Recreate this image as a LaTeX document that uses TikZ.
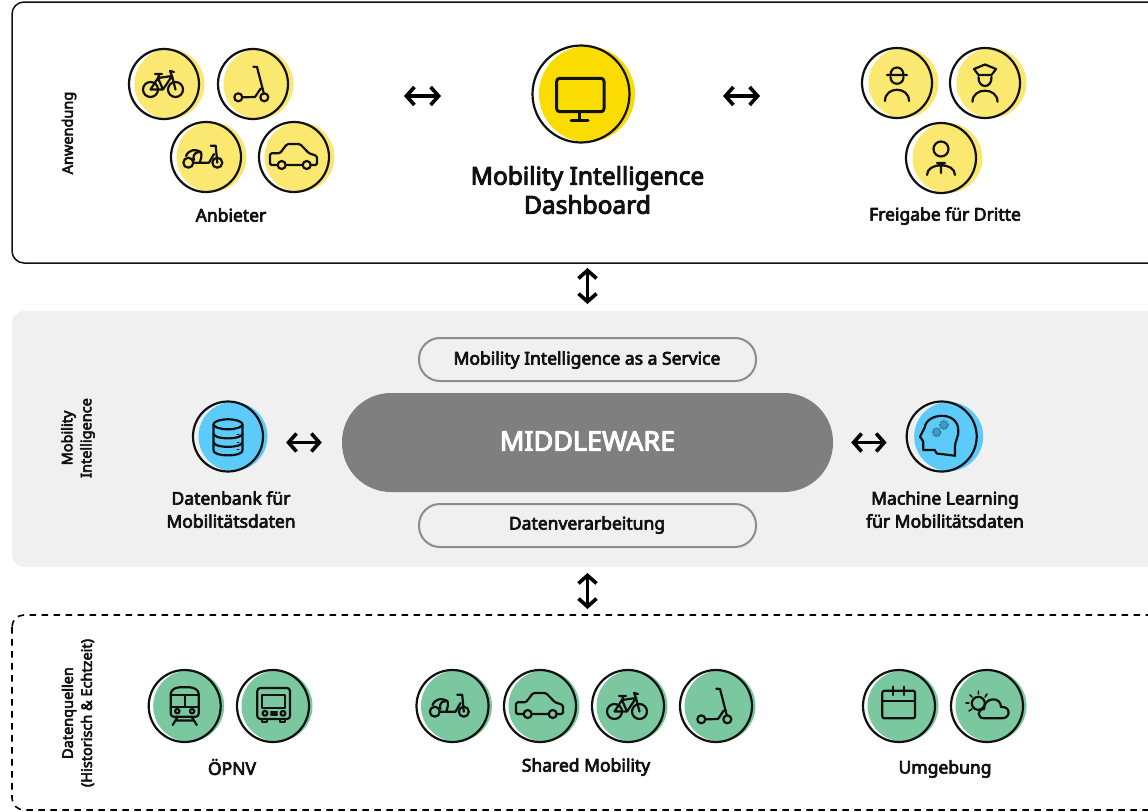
\documentclass[tikz,border=0pt]{standalone}
\usepackage{fontspec}
\setmainfont{Noto Sans}
\newfontfamily\labelfont{Noto Sans}[FakeBold=4]
\usetikzlibrary{arrows.meta}
\definecolor{ylwlight}{HTML}{FBE870}
\definecolor{ylwstrong}{HTML}{FADC00}
\definecolor{bluedisc}{HTML}{5CCBFA}
\definecolor{greendisc}{HTML}{7BC8A0}
\definecolor{panelgray}{HTML}{F0F0F0}
\definecolor{pillgray}{HTML}{8C8C8C}
\definecolor{midgray}{HTML}{7F7F7F}
\definecolor{gearblue}{HTML}{2F7C9E}
\definecolor{inkblack}{HTML}{111111}
\tikzset{
	ring/.style={circle,draw=inkblack,line width=2.2pt,minimum size=70pt,inner sep=0pt},
	icon/.style={draw=inkblack,line width=2.2pt,line cap=round,line join=round},
	caption/.style={font=\labelfont\fontsize{17.5}{23}\selectfont,text=inkblack,align=center,inner sep=0pt},
	sidelabel/.style={font=\labelfont\fontsize{14.5}{19}\selectfont,text=inkblack,align=center,rotate=90,inner sep=0pt},
	pill/.style={draw=pillgray,line width=2pt,rounded corners=21pt,minimum width=337pt,minimum height=43pt,inner sep=0pt},
	biarrow/.style={{Straight Barb[length=8pt,width=18pt,line width=3.6pt]}-{Straight Barb[length=8pt,width=18pt,line width=3.6pt]},line width=3.6pt,draw=black},
	pics/bike/.style={code={
		\draw[icon] (-13.5,5.5) circle (7.5pt) (11.5,5.5) circle (7.5pt);
		\draw[icon] (-13.5,5.5)--(-6,-6)--(8,-8)--(11.5,5.5) (-6,-6)--(-1,5.5)--(8,-8) (-13.5,5.5)--(-1,5.5);
		\draw[icon] (-9,-10)--(-2,-10) (-4.5,-10)--(-6,-6) (8,-8)--(6,-13)--(10,-12);
	}},
	pics/scooter/.style={code={
		\draw[icon,fill=#1] (-14.7,13.3) circle (4pt) (11.3,13.3) circle (4pt);
		\draw[icon] (0.3,-17.3)--(4,-17)--(10.8,9.3) (-10.7,13.3)--(2,13)--(7.7,4.5);
	}},
	pics/moped/.style={code={
		\draw[icon,fill=#1] (-17.7,5.7) circle (5pt) (11.3,5.7) circle (5pt);
		\draw[icon] (4.7,-11.3)--(9.7,-11.3)--(11.3,5.7) (-12.7,5.7)--(3,5.7)--(8,-3);
		\draw[icon] (-20,-1) .. controls (-17,-8) and (-10,-8) .. (-5,-5) (-12,3) .. controls (-14,-4) and (-9,-5) .. (-5,-5) .. controls (-4,-1) and (-5,2) .. (-6,5);
	}},
	pics/car/.style={code={
		\draw[icon,rounded corners=1.5pt] (-24,8)--(-24,-3.7)--(-14,-3.7)--(-7,-13)--(6,-13)--(15,-3.7)--(23,-1)--(23,8)--cycle;
		\draw[icon,fill=#1] (-12.3,8) circle (4pt) (12.7,8) circle (4pt);
	}},
	pics/train/.style={code={
		\draw[icon,rounded corners=3pt] (-14,10.7)--(-14,-15)--(-8,-18.7)--(8,-18.7)--(14,-15)--(14,10.7)--cycle;
		\draw[icon] (-14,-11)--(14,-11) (-14,0.7)--(14,0.7) (0,-11)--(0,0.7);
		\draw[icon] (-7.4,5.2) circle (2.2pt) (7.4,5.2) circle (2.2pt);
		\draw[icon] (-7,10.7)--(-12,19) (7,10.7)--(12,19) (-9,14.5)--(9,14.5);
	}},
	pics/bus/.style={code={
		\draw[icon,rounded corners=3pt] (-15.7,13)--(-15.7,-18)--(17,-18)--(17,13)--cycle;
		\draw[icon] (-11,-11) rectangle (12,2.3);
		\draw[icon] (-8,7.3) circle (2.4pt) (10,7.3) circle (2.4pt);
		\draw[icon] (-2,6)--(4,6) (-2,8.5)--(4,8.5);
		\draw[icon] (-11,13)--(-11,16)--(-6,16)--(-6,13) (7,13)--(7,16)--(12,16)--(12,13);
	}},
	pics/calendar/.style={code={
		\draw[icon,rounded corners=2pt] (-16.7,-15.3) rectangle (16,12.3);
		\draw[icon] (-16.7,-5.3)--(16,-5.3) (-5.7,-19.3)--(-5.7,-11) (5,-19.3)--(5,-11);
	}},
	pics/weather/.style={code={
		\draw[icon] (-8.7,-2.7) circle (6.5pt);
		\draw[icon,line width=1.6pt] (-8.7,-12)--(-8.7,-15) (-15,-9)--(-17,-11) (-2,-9)--(0,-12) (-18,-3)--(-21,-3) (-15,3)--(-18,5);
		\draw[icon,fill=#1] (-3,12.3) .. controls (-10,12.3) and (-10,3) .. (-3,3) .. controls (-3,-9) and (14,-10) .. (14,1) .. controls (24,0) and (24,12.3) .. (15,12.3) -- cycle;
	}},
	pics/monitor/.style={code={
		\draw[icon,line width=3pt,rounded corners=3pt] (-24.3,-15.7) rectangle (23,17.7);
		\draw[icon,line width=3pt] (-2,17.7)--(-2,26) (-10,26.5)--(7,26.5);
	}},
	pics/hardhat/.style={code={
		\draw[icon] (-6.5,-6) .. controls (-6.5,3) and (6.5,3) .. (6.5,-6);
		\draw[icon] (-10,-8)--(10,-8) (-6.5,-8) .. controls (-6.5,-18) and (6.5,-18) .. (6.5,-8);
		\draw[icon] (-12,18) .. controls (-12,3) and (12,3) .. (12,18);
	}},
	pics/police/.style={code={
		\draw[icon] (-6.5,-6) .. controls (-7,6) and (7,6) .. (6.5,-6);
		\draw[icon] (-11,-14)--(0,-18.5)--(11,-14)--(6.5,-8)--(-6.5,-8)--cycle;
		\draw[icon] (-12.5,18.7) .. controls (-12.5,4) and (12.5,4) .. (12.5,18.7);
	}},
	pics/person/.style={code={
		\draw[icon] (0,-9) circle (7.5pt);
		\draw[icon] (-14,17) .. controls (-14,4) and (14,4) .. (14,17) (0,5)--(0,15) (-4,5)--(4,5);
	}},
	pics/database/.style={code={
		\draw[icon] (0,-12.2) ellipse (14.5pt and 5pt);
		\draw[icon] (-14.5,-12.2)--(-14.5,14) .. controls (-14.5,20.5) and (14.5,20.5) .. (14.5,14)--(14.5,-12.2);
		\draw[icon] (-14.5,-3) .. controls (-14.5,3.5) and (14.5,3.5) .. (14.5,-3);
		\draw[icon] (-14.5,5.5) .. controls (-14.5,12) and (14.5,12) .. (14.5,5.5);
		\draw[icon,line width=1pt] (9,-2)--(11,-2) (9,6)--(11,6) (9,13)--(11,13);
	}},
	pics/mlhead/.style={code={
		\draw[icon] (-21.7,0.2)--(-17,-9) .. controls (-15,-24) and (16,-26) .. (16.6,-6.5) .. controls (17,1) and (13,5) .. (13.3,10.2)--(13.3,19.2)--(-5,17)--(-7,13.5)--(-18.4,13.5)--(-18.4,5)--cycle;
		\draw[gearblue,fill=gearblue!60!bluedisc,line width=1.8pt,densely dotted,line cap=butt] (2.3,-11.5) circle (4pt) (-5,-4.2) circle (4pt);
	}},
}
\begin{document}
\begin{tikzpicture}[x=1pt,y=-1pt,line join=round,line cap=round]
	\useasboundingbox (0,0) rectangle (1148,811);
	\clip (0,0) rectangle (1148,811);
	\draw[draw=inkblack,line width=1.5pt,rounded corners=12pt] (12,2) rectangle (1175,263);
	\fill[panelgray,rounded corners=12pt] (12,311) rectangle (1175,567);
	\draw[draw=black,line width=1.6pt,dash pattern=on 6.5pt off 5.5pt,line cap=butt,rounded corners=12pt] (12,615) rectangle (1175,810);
	\coordinate (topedge) at (587.5,263);
	\coordinate (bottomedge) at (587.5,615);
	\coordinate (leftend) at (404,96);
	\coordinate (leftdash) at (441,96);
	\coordinate (rightdash) at (723,96);
	\coordinate (rightend) at (760,96);
	% side labels
	\node[sidelabel] (lblapp) at (69,133) {Anwendung};
	\node[sidelabel] (lblmi) at (78,438) {Mobility\\Intelligence};
	\node[sidelabel] (lblsrc) at (78,713) {Datenquellen\\(Historisch \& Echtzeit)};
	% yellow badges
	\foreach \nm/\px/\py/\ic in {bike/164/84/bike,scooter/253/84/scooter,moped/206/157/moped,car/294/157/car}{
		\fill[ylwlight] (\px+5.5,\py) circle (35pt);
		\node[ring] (\nm) at (\px,\py) {};
		\pic at (\px,\py) {\ic=ylwlight};
	}
	\foreach \nm/\px/\py/\ic in {hardhat/897/83/hardhat,police/985/83/police,person/941/158/person}{
		\fill[ylwlight] (\px+6.5,\py) circle (35pt);
		\node[ring] (\nm) at (\px,\py) {};
		\pic at (\px,\py) {\ic=ylwlight};
	}
	\fill[ylwstrong] (587,94) circle (48pt);
	\node[ring,minimum size=97pt] (dash) at (581,94) {};
	\pic at (581,94) {monitor};
	% blue badges
	\foreach \nm/\px/\py/\ic/\dx in {db/228/436.5/database/5,ml/941.7/436.5/mlhead/7}{
		\fill[bluedisc] (\px+\dx,\py) circle (34.5pt);
		\node[ring] (\nm) at (\px,\py) {};
		\pic at (\px,\py) {\ic};
	}
	% green badges
	\foreach \nm/\px/\ic in {train/184.7/train,bus/273/bus,moped2/452.5/moped,car2/540/car,bike2/628/bike,scooter2/716/scooter,calendar/899/calendar,weather/987/weather}{
		\fill[greendisc] (\px+4,706) circle (35.5pt);
		\node[ring,minimum size=72pt] (\nm) at (\px,706) {};
		\pic at (\px,706) {\ic=greendisc};
	}
	% captions
	\node[caption] (anbieter) at (231,215) {Anbieter};
	\node[caption] (dritte) at (945,216) {Freigabe für Dritte};
	\node[caption,font=\labelfont\fontsize{24.5}{29}\selectfont] (dashtext) at (587.5,190) {Mobility Intelligence\\Dashboard};
	\node[caption] (dbtext) at (231,509.5) {Datenbank für\\Mobilitätsdaten};
	\node[caption] (mltext) at (945,509.5) {Machine Learning\\für Mobilitätsdaten};
	\node[caption] (opnv) at (232,767) {ÖPNV};
	\node[caption] (shared) at (586,767) {Shared Mobility};
	\node[caption] (umgebung) at (945,769) {Umgebung};
	% middle column
	\node[pill] (service) at (587.5,359.5) {};
	\node[caption] (servicetext) at (587,360) {Mobility Intelligence as a Service};
	\node[pill] (verarb) at (587.5,525.5) {};
	\node[caption] (verarbtext) at (587,525) {Datenverarbeitung};
	\node[fill=midgray,rounded corners=49pt,minimum width=491pt,minimum height=99pt,inner sep=0pt] (middle) at (587.5,442.5) {};
	\node[text=white,inner sep=0pt,font=\labelfont\fontsize{27}{30}\selectfont] (midtext) at (587.5,441) {MIDDLEWARE};
	% connectors
	\draw[biarrow] (leftend) -- (leftdash);
	\draw[biarrow] (rightdash) -- (rightend);
	\draw[biarrow,shorten <=5pt,shorten >=33pt] (topedge) -- (service.north);
	\draw[biarrow,shorten <=25pt,shorten >=6pt] (verarb.south) -- (bottomedge);
	\draw[biarrow,shorten <=22pt,shorten >=20pt] (db.east |- middle) -- (middle.west);
	\draw[biarrow,shorten <=18pt,shorten >=19pt] (middle.east) -- (ml.west |- middle);
\end{tikzpicture}
\end{document}
